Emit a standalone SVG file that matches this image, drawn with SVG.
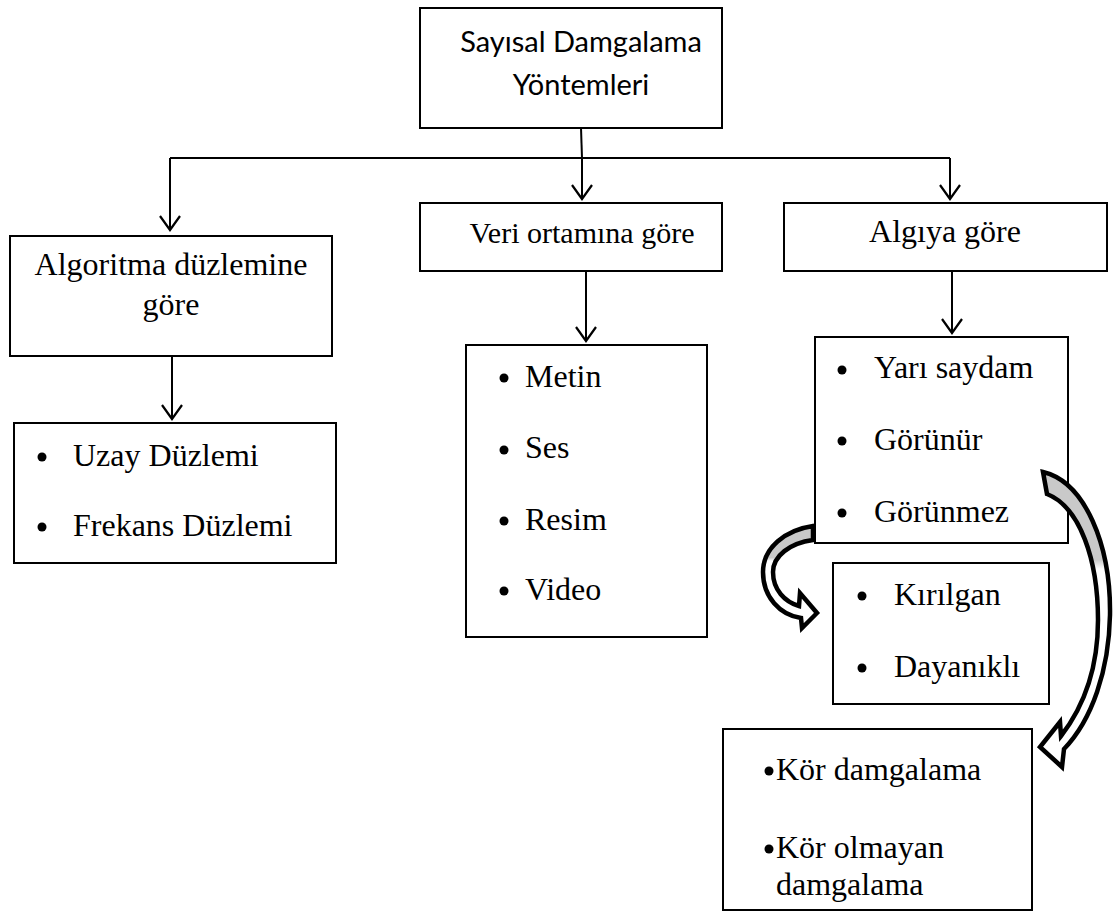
<svg xmlns="http://www.w3.org/2000/svg" width="1117" height="915" viewBox="0 0 1117 915">
  <style>
    .box { fill: #ffffff; stroke: #000000; stroke-width: 2; }
    .wire { fill: none; stroke: #000000; stroke-width: 2; }
    .serif { font-family: Liberation Serif, Times New Roman, serif; font-size: 32px; fill: #000000; }
    .sans { font-family: Lato, Liberation Sans, sans-serif; font-size: 29px; fill: #000000; }
    .mid { text-anchor: middle; }
    .dot { fill: #000000; }
    .bend { stroke: #000000; stroke-width: 4.5; stroke-linejoin: miter; }
  </style>
  <defs>
    <marker id="vhead" markerUnits="userSpaceOnUse" markerWidth="30" markerHeight="30" refX="15" refY="15" orient="auto" viewBox="0 0 30 30">
      <path d="M1,5 L15,15 L1,25" fill="none" stroke="#000000" stroke-width="2.2"/>
    </marker>
    <linearGradient id="bendFillA" gradientUnits="userSpaceOnUse" x1="0" y1="522" x2="0" y2="630">
      <stop offset="0" stop-color="#c9c9c9"/>
      <stop offset="0.33" stop-color="#c9c9c9"/>
      <stop offset="0.36" stop-color="#ffffff"/>
      <stop offset="1" stop-color="#ffffff"/>
    </linearGradient>
    <linearGradient id="bendFillB" gradientUnits="userSpaceOnUse" x1="0" y1="470" x2="0" y2="770">
      <stop offset="0" stop-color="#c9c9c9"/>
      <stop offset="0.3" stop-color="#c9c9c9"/>
      <stop offset="0.33" stop-color="#ffffff"/>
      <stop offset="1" stop-color="#ffffff"/>
    </linearGradient>
  </defs>

  <!-- straight connectors -->
  <g id="connectors">
    <path class="wire" d="M581,128 L582,158"/>
    <path class="wire" d="M170,158 L950,158"/>
    <path class="wire" d="M170,158 L170,230" marker-end="url(#vhead)"/>
    <path class="wire" d="M582,158 L582,199" marker-end="url(#vhead)"/>
    <path class="wire" d="M950,158 L950,199" marker-end="url(#vhead)"/>
    <path class="wire" d="M172,356 L172,419" marker-end="url(#vhead)"/>
    <path class="wire" d="M586,271 L586,341" marker-end="url(#vhead)"/>
    <path class="wire" d="M952,271 L952,333" marker-end="url(#vhead)"/>
  </g>

  <g id="root">
    <rect class="box" x="420" y="8" width="302" height="120"/>
    <text class="sans mid" x="581" y="52">Sayısal Damgalama</text>
    <text class="sans mid" x="581" y="95">Yöntemleri</text>
  </g>

  <g id="algoritma">
    <rect class="box" x="10" y="236" width="322" height="120"/>
    <text class="serif mid" x="171" y="275">Algoritma düzlemine</text>
    <text class="serif mid" x="171" y="315">göre</text>
  </g>

  <g id="veri">
    <rect class="box" x="420" y="203" width="302" height="68"/>
    <text class="serif mid" x="582" y="243" style="font-size:30px">Veri ortamına göre</text>
  </g>

  <g id="algi">
    <rect class="box" x="784" y="203" width="323" height="68"/>
    <text class="serif mid" x="945" y="242">Algıya göre</text>
  </g>

  <g id="duzlem">
    <rect class="box" x="14" y="423" width="322" height="140"/>
    <circle class="dot" cx="42" cy="457" r="4.5"/>
    <text class="serif" x="73" y="466">Uzay Düzlemi</text>
    <circle class="dot" cx="42" cy="527" r="4.5"/>
    <text class="serif" x="73" y="536">Frekans Düzlemi</text>
  </g>

  <g id="ortam">
    <rect class="box" x="466" y="345" width="241" height="292"/>
    <circle class="dot" cx="504" cy="378" r="4.5"/>
    <text class="serif" x="525" y="387">Metin</text>
    <circle class="dot" cx="504" cy="450" r="4.5"/>
    <text class="serif" x="525" y="458">Ses</text>
    <circle class="dot" cx="504" cy="521" r="4.5"/>
    <text class="serif" x="525" y="530">Resim</text>
    <circle class="dot" cx="504" cy="591" r="4.5"/>
    <text class="serif" x="525" y="600">Video</text>
  </g>

  <g id="algi-liste">
    <rect class="box" x="815" y="337" width="253" height="206"/>
    <circle class="dot" cx="842" cy="370" r="4.5"/>
    <text class="serif" x="874" y="378">Yarı saydam</text>
    <circle class="dot" cx="842" cy="441" r="4.5"/>
    <text class="serif" x="874" y="450">Görünür</text>
    <circle class="dot" cx="842" cy="513" r="4.5"/>
    <text class="serif" x="874" y="522">Görünmez</text>
  </g>

  <g id="gorunmez-tur">
    <rect class="box" x="833" y="563" width="216" height="141"/>
    <circle class="dot" cx="862" cy="596" r="4.5"/>
    <text class="serif" x="894" y="605">Kırılgan</text>
    <circle class="dot" cx="862" cy="668" r="4.5"/>
    <text class="serif" x="894" y="677">Dayanıklı</text>
  </g>

  <g id="kor">
    <rect class="box" x="723" y="729" width="309" height="181"/>
    <circle class="dot" cx="769" cy="771" r="4.5"/>
    <text class="serif" x="776" y="780">Kör damgalama</text>
    <circle class="dot" cx="769" cy="849" r="4.5"/>
    <text class="serif" x="776" y="858">Kör olmayan</text>
    <text class="serif" x="776" y="895">damgalama</text>
  </g>

  <!-- curved block arrows -->
  <g id="bent-arrows">
    <path class="bend" fill="url(#bendFillA)" d="M813,526 C785,530 763,548 763,572 C763,597 780,615 801,618 L802,628 L817,613 L800,593 L799,606 C785,602 773,590 773,572 C773,556 790,543 813,540 Z"/>
    <path class="bend" fill="url(#bendFillB)" d="M1043,472 C1085,482 1111,545 1110,615 C1109,670 1092,720 1064,749 L1062,767 L1040,747 L1060,722 L1061,736 C1085,705 1098,665 1098,620 C1098,560 1080,507 1047,494 Z"/>
  </g>
</svg>
